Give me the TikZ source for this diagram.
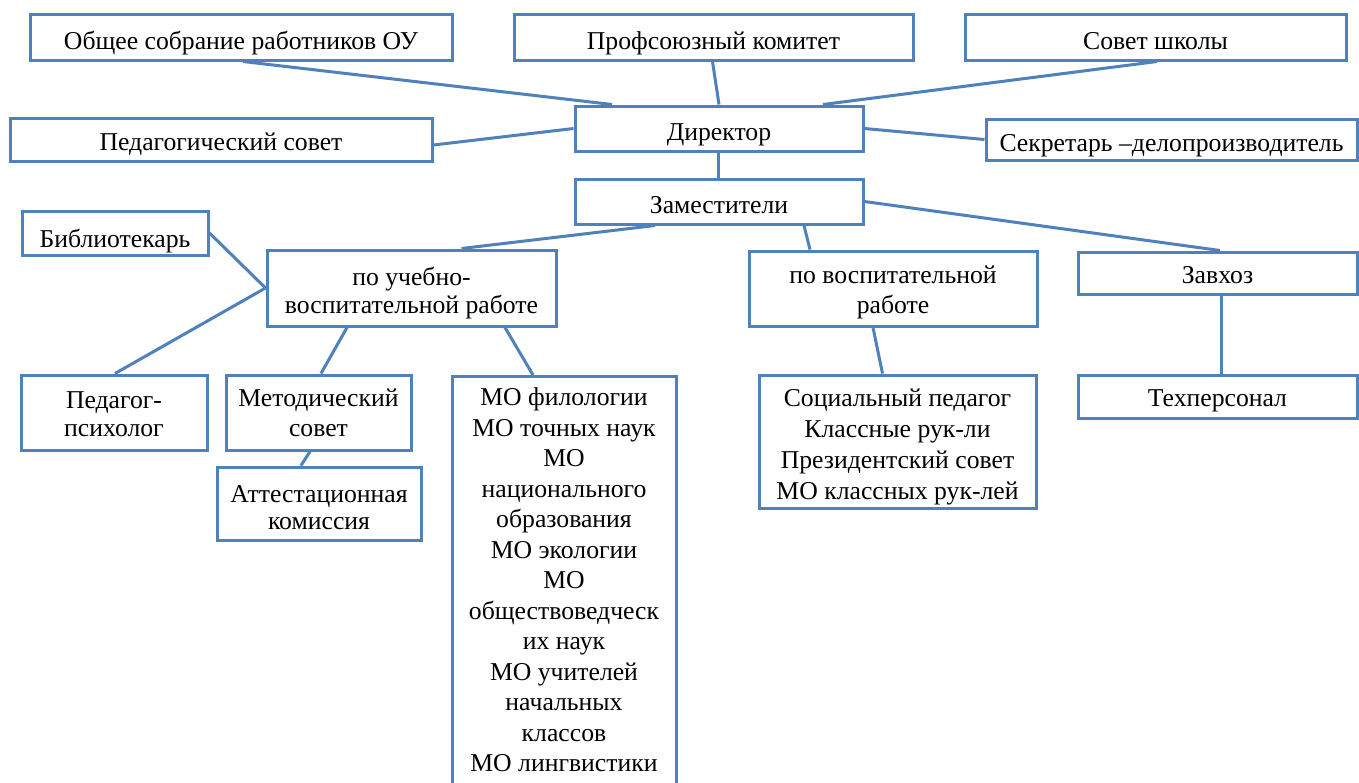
\documentclass[tikz,border=0pt]{standalone}
\usepackage{fontspec}
\setmainfont{Liberation Serif}
\usetikzlibrary{calc}
\definecolor{boxblue}{RGB}{79,129,189}
\newcommand{\bt}[2][-3.25pt]{\raisebox{#1}[\height][\depth]{\begin{tabular}{@{}c@{}}#2\end{tabular}}}
\begin{document}
\begin{tikzpicture}[x=0.5pt,y=-0.5pt,
  box/.style={draw=boxblue, line width=1.5pt, rectangle, inner sep=1pt,
    font=\fontsize{12.85}{14}\selectfont, text=black},
  link/.style={draw=boxblue, line width=1.5pt}]
\useasboundingbox[fill=white] (0,0) rectangle (1359,782);
\node[box, minimum width=211pt, minimum height=23pt] (A) at (241,37) {\bt{Общее собрание работников ОУ}};
\node[box, minimum width=199.5pt, minimum height=23pt] (B) at (713.5,37) {\bt{Профсоюзный комитет}};
\node[box, minimum width=190.5pt, minimum height=23pt] (C) at (1155.5,37) {\bt{Совет школы}};
\node[box, minimum width=211pt, minimum height=21.5pt] (D) at (221,139.5) {\bt[-2.75pt]{Педагогический совет}};
\node[box, minimum width=144pt, minimum height=22.5pt] (E) at (719,128.5) {\bt{Директор}};
\node[box, minimum width=185.5pt, minimum height=20.5pt] (F) at (1171.5,139.5) {\bt{Секретарь –делопроизводитель}};
\node[box, minimum width=144pt, minimum height=22.5pt] (G) at (719,201.5) {\bt{Заместители}};
\node[box, minimum width=93pt, minimum height=22pt] (H) at (115,233) {\bt[-4.25pt]{Библиотекарь}};
\node[box, minimum width=144.5pt, minimum height=38pt] (I) at (411.5,288) {\bt[-2.75pt]{по учебно-\\воспитательной работе}};
\node[box, minimum width=144pt, minimum height=37.5pt, font=\fontsize{12.85}{15}\selectfont] (J) at (893,288.5) {\bt[-1.75pt]{по воспитательной\\работе}};
\node[box, minimum width=139.5pt, minimum height=21pt] (K) at (1217.5,273) {\bt[-2.5pt]{Завхоз}};
\node[box, minimum width=93pt, minimum height=37.5pt] (L) at (114,412.5) {\bt[-2pt]{Педагог-\\психолог}};
\node[box, minimum width=92.5pt, minimum height=37.5pt, font=\fontsize{12.85}{15}\selectfont] (M) at (318.5,412.5) {\bt[-1.5pt]{Методический\\совет}};
\node[box, minimum width=102pt, minimum height=36.5pt, font=\fontsize{12.85}{13.6}\selectfont] (N) at (319,503.5) {\bt[-3.5pt]{Аттестационная\\комиссия}};
\node[box, minimum width=112pt, minimum height=212.5pt, anchor=north,
  font=\fontsize{12.85}{15.25}\selectfont] (O) at (564,375)
  {\bt[3.25pt]{МО филологии\\МО точных наук\\МО\\национального\\образования\\МО экологии\\МО\\обществоведческ\\их наук\\МО учителей\\начальных\\классов\\МО лингвистики}};
\node[box, minimum width=138.5pt, minimum height=66.5pt,
  font=\fontsize{12.85}{15.5}\selectfont] (P) at (897.5,441.5)
  {\bt[-2.75pt]{Социальный педагог\\Классные рук-ли\\Президентский совет\\МО классных рук-лей}};
\node[box, minimum width=139.5pt, minimum height=21.5pt] (Q) at (1217.5,396.5) {\bt[-2pt]{Техперсонал}};

\draw[link] ([xshift=1pt]A.south) -- ([xshift=-53.5pt]E.north);
\draw[link] ([xshift=-0.5pt]B.south) -- (E.north);
\draw[link] ([xshift=0.75pt]C.south) -- ([xshift=52pt]E.north);
\draw[link] ([yshift=-2.75pt]D.east) -- (E.west);
\draw[link] (E.east) -- (F.west);
\draw[link] ([xshift=-0.5pt]E.south) -- ([xshift=-0.5pt]G.north);
\draw[link] ([xshift=-32pt]G.south) -- ([xshift=25pt]I.north);
\draw[link] ([xshift=42.5pt]G.south) -- ([xshift=-41.5pt]J.north);
\draw[link] (G.east) -- ([xshift=1.25pt]K.north);
\draw[link] (H.east) -- (I.west);
\draw[link] ([xshift=0.5pt]L.north) -- (I.west);
\draw[link] ([xshift=-32.25pt]I.south) -- ([xshift=1.25pt]M.north);
\draw[link] ([xshift=46.75pt]I.south) -- ([xshift=-15.5pt]O.north);
\draw[link] ([xshift=-4.25pt]M.south) -- ([xshift=-9pt]N.north);
\draw[link] ([xshift=-10pt]J.south) -- ([xshift=-7.5pt]P.north);
\draw[link] ([xshift=1.75pt]K.south) -- ([xshift=1.75pt]Q.north);
\end{tikzpicture}
\end{document}
